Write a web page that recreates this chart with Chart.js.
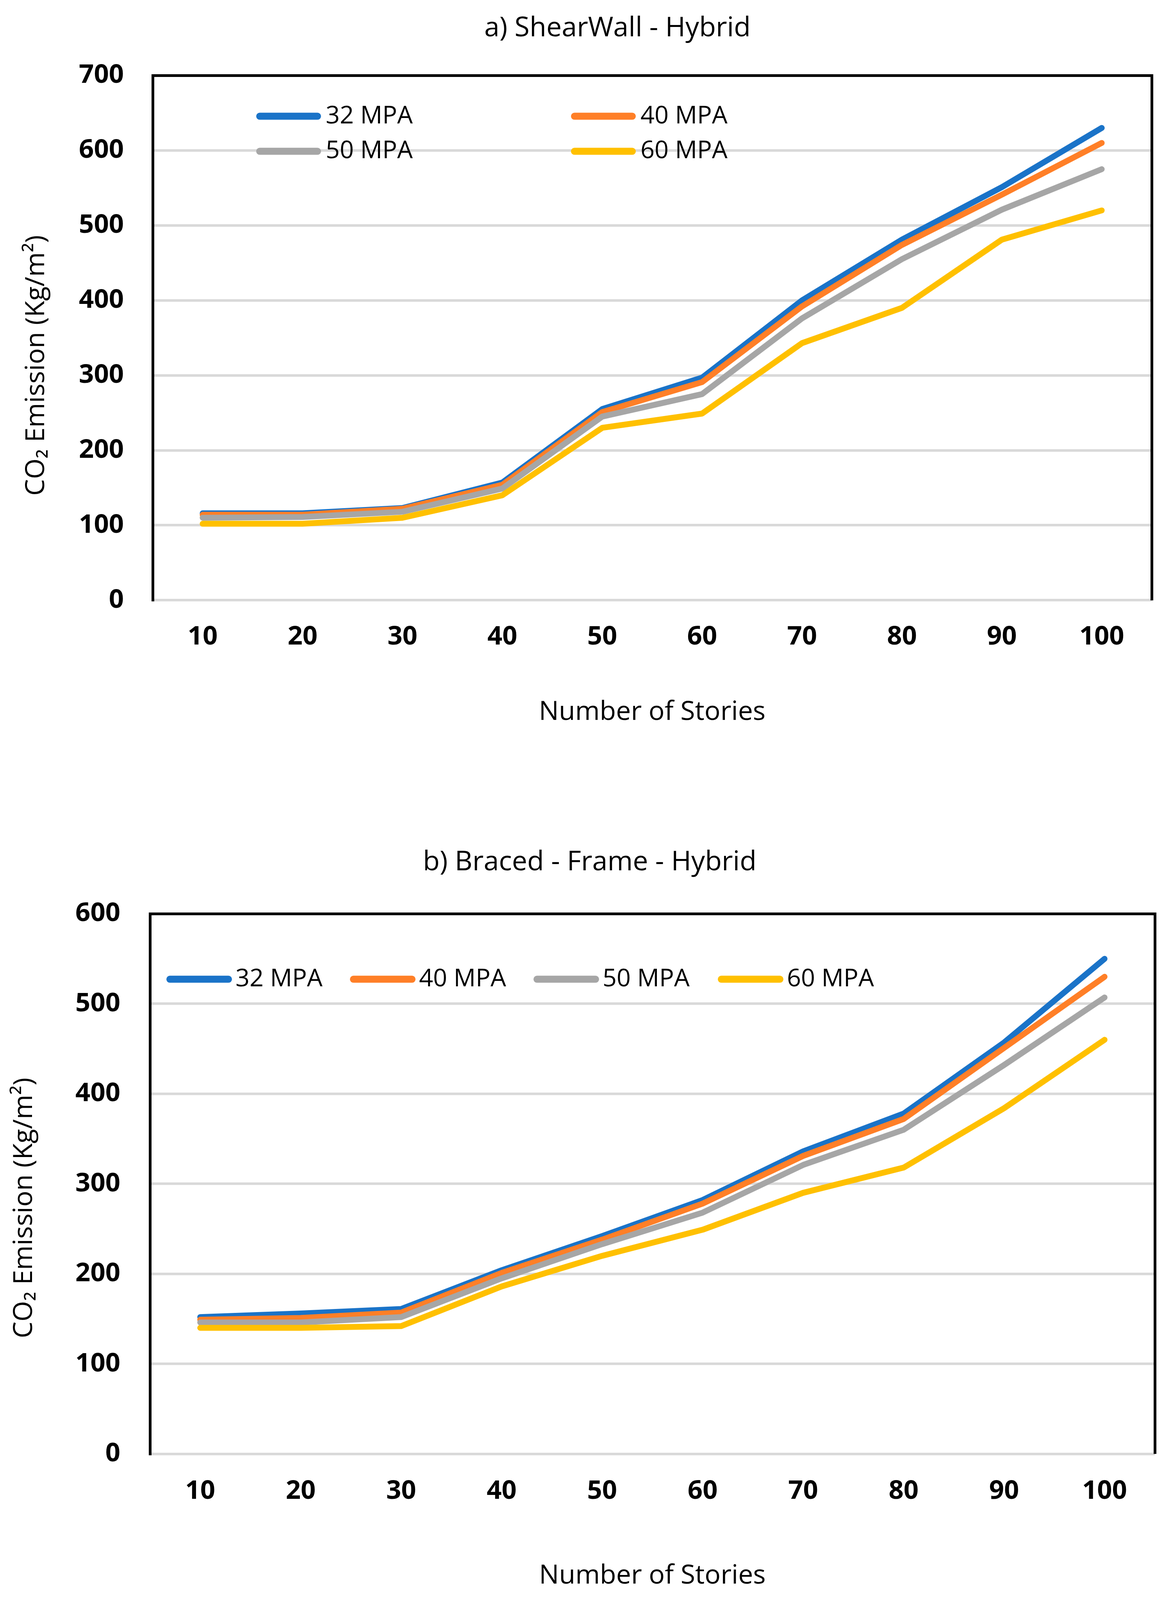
<!DOCTYPE html>
<html><head><meta charset="utf-8">
<script src="https://cdn.jsdelivr.net/npm/chart.js@4.4.1/dist/chart.umd.min.js"></script>
<style>
html,body{margin:0;padding:0;background:#fff}
#wrap{position:relative;width:3001px}
canvas{position:absolute;left:0}
</style></head>
<body>
<div id="wrap">
<canvas id="c1"></canvas>
<canvas id="c2"></canvas>
</div>
<script>
// ---------- data ----------
const stories = ['10','20','30','40','50','60','70','80','90','100'];
const seriesNames = ['32 MPA','40 MPA','50 MPA','60 MPA'];

const shearWall32 = [116,116,123,157,255,297,400,481,551,630];
const shearWall40 = [114,114,122,154,251,291,392,474,541,610];
const shearWall50 = [110,111,118,149,245,275,376,455,521,575];
const shearWall60 = [102,102,110,140,230,249,343,390,481,520];

const braced32 = [152,156,161,204,242,282,336,378,457,550];
const braced40 = [149,151,157,201,238,278,331,372,451,530];
const braced50 = [146,146,152,195,233,268,321,360,432,507];
const braced60 = [140,140,142,186,220,249,290,318,384,460];

const titleA = 'a) ShearWall - Hybrid';
const titleB = 'b) Braced - Frame - Hybrid';
const xTitle = 'Number of Stories';
const yTitle = 'CO\u2082 Emission (Kg/m\u00B2)';

// ---------- styles / layout ----------
const colors = ['#1A73C8','#FF7F27','#A6A6A6','#FFC000'];
const FAMILY = "'Open Sans', sans-serif";
const GRID = '#D9D9D9';
const TITLE_SIZE = 70, TICK_SIZE = 67, AXIS_TITLE_SIZE = 68, LEGEND_SIZE = 63;

// fit the 3001x4473 design into the actual viewport height
const KY = Math.min(1, (window.innerHeight || 4473) / 4473);
const H1 = Math.round(2236 * KY);
const H2 = Math.round(4473 * KY) - H1;
document.getElementById('wrap').style.height = (H1 + H2) + 'px';

const placedLegend = {
  id: 'placedLegend',
  afterLayout(chart, args, opts) {
    if (opts.titleCenterX != null && chart.titleBlock) {
      const tb = chart.titleBlock;
      const d = opts.titleCenterX - (tb.left + tb.right) / 2;
      tb.left += d; tb.right += d;
    }
  },
  afterDatasetsDraw(chart, args, opts) {
    const ctx = chart.ctx;
    ctx.save();
    chart.data.datasets.forEach((ds, i) => {
      const p = opts.items[i];
      const half = opts.lineWidth / 2;
      ctx.strokeStyle = ds.borderColor;
      ctx.lineWidth = opts.lineWidth;
      ctx.lineCap = 'round';
      ctx.beginPath();
      ctx.moveTo(p[0] + half, p[1]);
      ctx.lineTo(p[0] + opts.lineLength - half, p[1]);
      ctx.stroke();
      ctx.fillStyle = '#000';
      ctx.font = 'normal ' + LEGEND_SIZE + 'px ' + FAMILY;
      ctx.textBaseline = 'middle';
      ctx.textAlign = 'left';
      ctx.fillText(ds.label, p[0] + opts.textOffset, p[1]);
    });
    ctx.restore();
  }
};

function makeDatasets(series) {
  return series.map((vals, i) => ({
    label: seriesNames[i],
    data: vals,
    borderColor: colors[i],
    backgroundColor: colors[i],
    borderWidth: 15,
    borderCapStyle: 'round',
    borderJoinStyle: 'round',
    pointRadius: 0,
    pointHoverRadius: 0,
    tension: 0,
    fill: false,
    order: 3 - i
  }));
}

function makeChart(id, top, height, g) {
  const cv = document.getElementById(id);
  cv.width = 3001; cv.height = height;
  cv.style.top = top + 'px';
  cv.style.width = '3001px'; cv.style.height = height + 'px';

  const tlh = TITLE_SIZE * 1.2, xlh = TICK_SIZE * 1.2, alh = AXIS_TITLE_SIZE * 1.2;
  const titlePadTop = g.titleCY * KY - tlh / 2;
  const titlePadBottom = g.aTop * KY - titlePadTop - tlh;
  const xTickPad = (g.xTickCY - g.aBottom) * KY - xlh / 2;
  const scaleBottom = g.xTitleCY * KY + alh / 2;
  const padBottom = height - scaleBottom;
  const xHeight = scaleBottom - g.aBottom * KY;
  const padLeft = g.yTitleCX - alh / 2;
  const yWidth = g.aLeft - padLeft;
  const yTickPad = g.aLeft - g.yTickRight;
  const padRight = 3001 - g.aRight;

  return new Chart(cv, {
    type: 'line',
    data: { labels: stories, datasets: makeDatasets(g.series) },
    plugins: [placedLegend],
    options: {
      responsive: false,
      animation: false,
      devicePixelRatio: 1,
      layout: { padding: { top: 0, left: padLeft, right: padRight, bottom: padBottom } },
      plugins: {
        legend: { display: false },
        tooltip: { enabled: false },
        title: {
          display: true,
          text: g.title,
          color: '#000',
          font: { family: FAMILY, size: TITLE_SIZE, weight: 'normal' },
          padding: { top: titlePadTop, bottom: titlePadBottom }
        },
        placedLegend: {
          titleCenterX: g.titleCX,
          items: g.legendItems.map(p => [p[0], p[1] * KY]),
          lineLength: g.legendLen, lineWidth: 18, textOffset: g.legendTextOffset
        }
      },
      scales: {
        x: {
          type: 'category',
          offset: true,
          grid: { display: false, drawTicks: false },
          border: { display: false },
          ticks: { color: '#000', padding: xTickPad, font: { family: FAMILY, size: TICK_SIZE, weight: 'bold' }, maxRotation: 0 },
          title: { display: true, text: xTitle, color: '#000', font: { family: FAMILY, size: AXIS_TITLE_SIZE, weight: 'normal' }, padding: 0 },
          afterFit: s => { s.height = xHeight; }
        },
        y: {
          min: 0, max: g.yMax,
          grid: { color: GRID, lineWidth: 6.5, drawTicks: false },
          border: { display: true, color: '#000', width: 7 },
          ticks: { stepSize: 100, color: '#000', padding: yTickPad, font: { family: FAMILY, size: TICK_SIZE, weight: 'bold' } },
          title: { display: true, text: yTitle + g.yTitleTail, color: '#000', font: { family: FAMILY, size: AXIS_TITLE_SIZE, weight: 'normal' }, padding: 0 },
          afterFit: s => { s.width = yWidth; }
        },
        xTop: {
          type: 'category', position: 'top', z: 1,
          grid: { display: false, drawTicks: false },
          border: { display: true, color: '#000', width: 7 },
          ticks: { display: false },
          afterFit: s => { s.height = 0; }
        },
        yRight: {
          type: 'linear', position: 'right', z: 1, min: 0, max: g.yMax,
          grid: { display: false, drawTicks: false },
          border: { display: true, color: '#000', width: 7 },
          ticks: { display: false },
          afterFit: s => { s.width = 0; }
        }
      }
    }
  });
}

makeChart('c1', 0, H1, {
  series: [shearWall32, shearWall40, shearWall50, shearWall60],
  title: titleA, yMax: 700,
  titleCY: 80, titleCX: 1581, aTop: 211, aBottom: 1678, xTickCY: 1781, xTitleCY: 1991,
  aLeft: 391, aRight: 2949, yTitleCX: 94, yTickRight: 317,
  yTitleTail: '        ',
  legendItems: [[656,325],[1462,325],[656,423],[1462,423]],
  legendLen: 166, legendTextOffset: 178
});

makeChart('c2', H1, H2, {
  series: [braced32, braced40, braced50, braced60],
  title: titleB, yMax: 600,
  titleCY: 175, titleCX: 1510, aTop: 318, aBottom: 1828, xTickCY: 1933, xTitleCY: 2170,
  aLeft: 384, aRight: 2957, yTitleCX: 63, yTickRight: 308,
  yTitleTail: '       ',
  legendItems: [[426,501],[896,501],[1366,501],[1838,501]],
  legendLen: 168, legendTextOffset: 177
});
</script>
</body></html>
